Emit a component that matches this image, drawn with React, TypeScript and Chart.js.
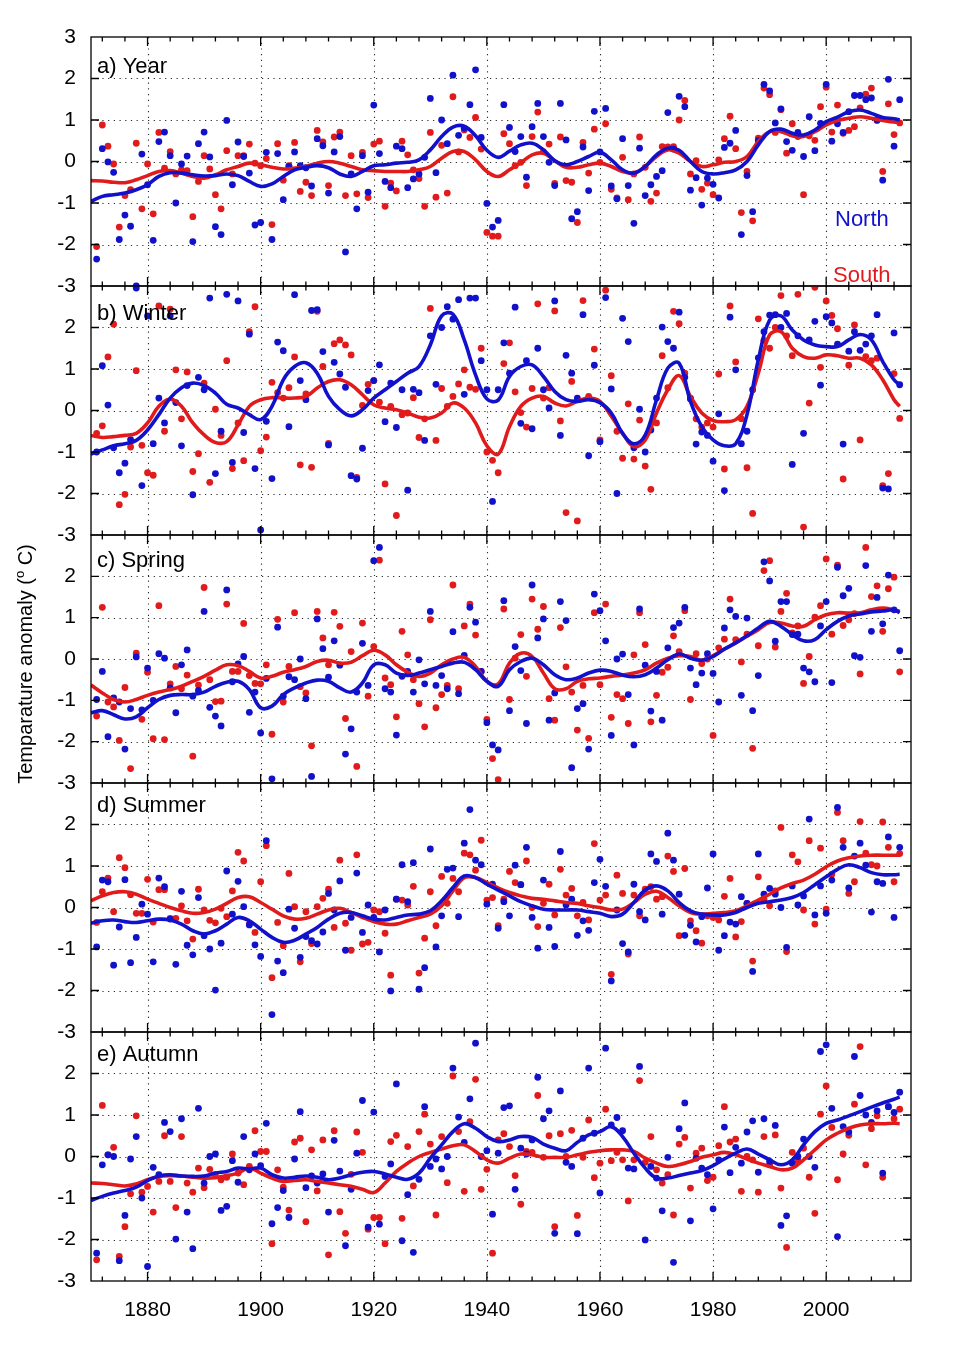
import React, { useEffect, useRef } from 'react';
import { Chart, registerables } from 'chart.js';

Chart.register(...registerables);

// ---------- data ----------
const FIRST_YEAR = 1871; // annual points 1871..2013
const X_MIN = 1870;
const X_MAX = 2015;
const X_LABEL_YEARS = [1880, 1900, 1920, 1940, 1960, 1980, 2000];
const X_MINOR_FIRST = 1872;
const X_MINOR_STEP = 4;
const Y_TICKS_FIRST = [3, 2, 1, 0, -1, -2, -3];
const Y_TICKS_OTHER = [2, 1, 0, -1, -2, -3];
const Y_GRID = [-2, -1, 0, 1, 2];
const PANEL_LABELS = ['a) Year', 'b) Winter', 'c) Spring', 'd) Summer', 'e) Autumn'];
const SERIES_NAMES = ['North', 'South'];
const Y_TITLE_MAIN = 'Temparature anomaly (';
const Y_TITLE_SUP = 'o';
const Y_TITLE_END = ' C)';

// smooth-curve sample years: 1870,1872,...,2012,2013
const CURVE_YEARS = Array.from({ length: 72 }, (_, i) => 1870 + 2 * i).concat([2013]);

// a) Year
const YEAR_NORTH = [
  -2.35, 0.31, -0.01, -0.26, -1.88, -1.29, -1.56, -3.0, 0.18, -0.56,
  -1.9, 0.48, 0.71, 0.14, -1.0, -0.06, 0.13, -1.93, 0.43, 0.71,
  0.11, -1.57, -1.76, 0.99, -0.56, 0.47, 0.12, -0.28, -1.53, -1.47,
  0.22, -1.88, 0.19, -0.92, -0.12, 0.23, -0.1, -0.15, -0.59, 0.55,
  0.38, -0.76, 0.23, 0.6, -2.18, -0.3, -1.14, 0.14, -0.74, 1.36,
  0.19, -0.48, -0.63, 0.37, 0.31, -0.63, -0.42, -0.3, 0.1, 1.52,
  -0.27, 1.0, 0.43, 2.08, 0.63, 0.8, 1.37, 2.21, 0.58, -1.01,
  -1.58, -1.42, 1.37, 0.82, 0.24, 0.6, -0.38, 0.84, 1.4, 0.6,
  -0.02, -0.58, 1.4, 0.52, -1.38, -1.21, 0.35, -0.7, 1.21, 0.23,
  1.28, -0.59, -0.9, 0.55, -0.58, -1.49, 0.32, -0.82, -0.56, -0.36,
  -0.22, 1.18, 0.3, 1.57, 1.32, -0.69, -0.39, -1.05, -0.4, -0.55,
  -0.88, 0.34, 0.44, 0.75, -1.76, -0.34, -1.21, 0.5, 1.86, 1.7,
  0.93, 1.27, 0.48, 0.27, 0.7, 0.12, 1.08, 0.26, 0.92, 1.86,
  0.49, 0.91, 0.7, 1.2, 1.59, 1.59, 1.49, 1.53, 1.0, -0.45,
  1.98, 0.37, 1.49,
];
const YEAR_SOUTH = [
  -2.05, 0.88, 0.37, -0.06, -1.58, -0.82, -0.68, 0.44, -1.14, -0.06,
  -1.26, 0.7, -0.16, 0.24, -0.3, -0.2, -0.22, -1.33, -0.48, 0.14,
  -0.18, -0.8, -1.14, 0.26, -0.3, 0.14, 0.14, 0.42, -0.04, -0.1,
  0.07, -1.52, 0.43, -0.45, -0.1, 0.46, -0.72, -0.5, -0.82, 0.75,
  0.47, -0.58, 0.59, 0.71, -0.82, 0.14, -0.78, 0.22, -0.87, 0.42,
  0.49, -1.08, -0.52, -0.71, 0.49, 0.16, -0.2, -0.41, -1.08, 0.7,
  -0.86, 0.39, -0.76, 1.56, 0.23, 0.76, 0.58, 1.06, 0.3, -1.71,
  -1.8, -1.8, 0.67, 0.43, -0.1, -0.02, -0.58, 0.6, 1.19, 0.24,
  0.42, -0.53, 0.59, -0.46, -0.5, -1.47, 0.46, -0.28, 0.78, -0.02,
  0.91, -0.67, -0.88, 0.1, -0.92, -0.3, 0.59, -0.14, -0.96, -0.76,
  0.36, 0.35, 0.36, 1.0, 1.47, -0.3, 0.02, -0.67, -0.52, -0.8,
  0.04, 0.55, 1.09, 0.31, -1.23, -0.24, -1.43, 0.56, 1.77, 1.61,
  0.7, 1.25, 0.2, 0.91, 0.6, -0.8, 0.62, 0.51, 1.32, 1.79,
  0.71, 1.36, 0.68, 0.75, 0.84, 1.29, 1.62, 1.77, 0.99, -0.24,
  1.39, 0.65, 0.93,
];
const YEAR_NORTH_CURVE = [
  -0.96, -0.84, -0.8, -0.76, -0.68, -0.56, -0.36, -0.27, -0.28, -0.32,
  -0.35, -0.34, -0.3, -0.34, -0.48, -0.6, -0.54, -0.36, -0.2, -0.14,
  -0.1, -0.15, -0.3, -0.36, -0.24, -0.1, -0.08, -0.04, -0.02, 0.04,
  0.28, 0.6, 0.83, 0.85, 0.62, 0.27, 0.1, 0.25, 0.4, 0.44,
  0.28, 0.02, -0.08, 0, 0.12, 0.22, 0.04, -0.2, -0.28, -0.12,
  0.16, 0.32, 0.27, 0, -0.24, -0.3, -0.27, -0.2, 0, 0.4,
  0.72, 0.78, 0.68, 0.64, 0.76, 0.96, 1.07, 1.2, 1.24, 1.16,
  1.06, 1.03, 1.0,
];
const YEAR_SOUTH_CURVE = [
  -0.46, -0.47, -0.5, -0.51, -0.44, -0.34, -0.24, -0.22, -0.28, -0.36,
  -0.4, -0.32, -0.2, -0.12, -0.04, -0.08, -0.14, -0.18, -0.16, -0.12,
  -0.04, 0, -0.04, -0.12, -0.2, -0.22, -0.24, -0.24, -0.24, -0.2,
  -0.12, 0.08, 0.24, 0.24, 0.04, -0.24, -0.36, -0.2, -0.03, 0.16,
  0.2, 0.02, -0.14, -0.14, -0.08, -0.04, -0.12, -0.24, -0.28, -0.12,
  0.12, 0.28, 0.2, 0, -0.12, -0.08, -0.02, 0, 0.12, 0.48,
  0.72, 0.72, 0.62, 0.6, 0.72, 0.88, 0.99, 1.04, 1.08, 1.04,
  0.99, 0.95, 0.96,
];

// b) Winter
const WINTER_NORTH = [
  -1.0, 1.08, 0.13, -0.9, -1.5, -1.27, -0.7, 2.95, -1.81, 2.28,
  -0.8, 0.3, -0.3, 2.28, 0.19, -0.85, 0.6, -2.03, 0.8, 0.5,
  2.71, -1.52, -0.5, 2.8, -1.25, 2.64, -0.53, 1.84, -1.4, -2.88,
  -0.26, -1.64, 1.65, 1.44, -0.39, 2.79, 0.72, 0.26, 2.41, 2.43,
  1.42, -0.83, 1.16, 0.88, 0.56, -1.57, -1.65, -0.91, 0.48, 0.72,
  1.1, -0.27, 0.66, -0.41, 0.5, -1.92, 0.51, 0.43, -0.72, 1.8,
  0.63, 2.0, 2.5, 2.2, 2.67, 0.39, 2.71, 2.71, 1.2, 0.5,
  -2.19, 0.5, 1.63, 0.9, 2.49, -0.31, 1.2, -0.44, 1.5, 0.5,
  0.06, 2.64, -0.6, 1.33, 0.9, 0.3, 2.31, -1.09, 1.09, -0.75,
  2.72, 0.52, -2.0, 2.22, 1.66, -0.9, 0.03, -1.0, -0.47, 0.3,
  2.01, 1.66, 1.5, 2.37, 0.8, 0.28, -0.81, -0.52, -0.6, -1.22,
  -0.08, -1.93, 2.25, 0.98, -0.8, -0.5, 0.5, 1.27, 1.9, 2.3,
  2.31, 2.0, 2.34, -1.3, 1.8, -0.55, 1.7, 2.15, 0.61, 2.26,
  2.11, 1.6, -0.81, 1.43, 1.9, 1.45, 1.6, 1.8, 2.31, -1.87,
  -1.89, 1.87, 0.62,
];
const WINTER_SOUTH = [
  -0.55, -0.37, 1.29, 2.08, -2.27, -2.02, -0.88, 0.96, -0.84, -1.5,
  -1.56, 2.52, -0.5, 2.44, 0.98, -0.2, 0.93, -1.47, -1.04, 0.66,
  -1.73, 0.03, -0.6, 1.2, -1.4, -0.3, -1.21, 1.9, 2.5, -0.97,
  -0.64, 0.68, 0.43, 0.3, 0.55, 1.29, -1.31, 0.4, -1.37, 2.39,
  1.06, -0.79, 1.61, 1.7, 1.58, 1.34, -1.61, 0.12, 0.63, 0.72,
  0.2, -1.77, 0.1, -2.53, -0.1, -0.06, 0.31, -0.65, -0.2, 2.46,
  -0.72, 0.53, 0.1, 0.34, 0.64, 0.98, 0.56, 0.51, 1.5, -1.0,
  -1.2, -1.5, 1.13, 1.63, 0.45, -0.05, -0.4, 0.53, 2.57, 0.3,
  0.55, 2.4, -0.25, -2.46, 0.7, -2.66, 2.65, 0.34, 1.48, -0.71,
  2.9, 0.84, -0.5, -1.15, 0.16, -1.17, -0.23, -1.34, -1.9, -0.3,
  1.32, 0.55, 2.39, 2.09, 0.9, 0.3, -0.2, -0.4, -0.3, -0.4,
  0.88, -1.41, 2.52, 1.17, -0.2, -1.38, -2.48, 2.21, 1.69, 1.5,
  2.0, 2.77, 1.8, 1.32, 2.8, -2.81, 0.18, 2.97, 1.04, 2.64,
  2.29, 1.97, -1.65, 1.09, 2.06, -0.71, 1.3, 1.2, 1.26, -1.81,
  -1.52, 0.89, -0.19,
];
const WINTER_NORTH_CURVE = [
  -1.05, -0.95, -0.85, -0.8, -0.72, -0.47, -0.1, 0.3, 0.55, 0.66,
  0.6, 0.42, 0.15, 0.06, -0.1, -0.22, 0.1, 0.74, 1.06, 1.15,
  0.9, 0.34, 0.02, -0.13, 0.02, 0.3, 0.5, 0.7, 0.9, 1.06,
  1.58, 2.28, 2.32, 1.7, 0.86, 0.28, 0.25, 0.82, 1.06, 1.1,
  0.82, 0.46, 0.26, 0.22, 0.26, 0.19, -0.06, -0.55, -0.8, -0.59,
  0.26, 1.02, 1.14, 0.22, -0.39, -0.71, -0.85, -0.8, -0.1, 1.22,
  2.18, 2.28, 1.94, 1.7, 1.58, 1.54, 1.54, 1.7, 1.83, 1.7,
  1.18, 0.74, 0.62,
];
const WINTER_SOUTH_CURVE = [
  -0.6, -0.65, -0.63, -0.6, -0.55, -0.3, 0.1, 0.27, 0.1, -0.3,
  -0.59, -0.77, -0.75, -0.35, 0.1, 0.26, 0.31, 0.3, 0.3, 0.34,
  0.54, 0.7, 0.74, 0.62, 0.38, 0.14, 0.06, 0.02, -0.06, -0.16,
  -0.18, -0.06, 0.18, 0.06, -0.3, -0.85, -1.05, -0.39, 0.1, 0.3,
  0.34, 0.18, 0.11, 0.22, 0.3, 0.22, -0.14, -0.55, -0.87, -0.71,
  -0.06, 0.5, 0.84, 0.34, -0.06, -0.24, -0.27, -0.22, 0.1, 0.9,
  1.82, 1.9, 1.5, 1.3, 1.26, 1.34, 1.32, 1.26, 1.26, 1.1,
  0.74, 0.26, 0.1,
];

// c) Spring
const SPRING_NORTH = [
  -0.98, -0.3, -1.88, -0.94, -1.04, -2.18, -1.2, 0.05, -1.23, -0.22,
  -1.0, 0.13, 0.02, -0.7, -1.3, -0.14, 0.22, -0.9, -0.76, 1.15,
  -1.17, -1.38, -1.62, 1.67, -0.55, -0.12, 0.06, -1.29, -0.8, -1.79,
  -0.47, -2.9, 0.77, -0.9, -0.43, -0.5, 0.0, -0.96, -2.84, 0.97,
  0.25, -0.44, 0.44, -0.15, -2.3, -1.69, -0.8, 0.38, -0.64, 2.38,
  2.7, -0.72, -0.8, -1.84, -0.42, -0.3, -0.8, -0.02, -0.6, 1.15,
  -0.64, -0.4, -0.72, 0.66, -0.84, 0.09, 1.25, 0.89, -0.3, -1.54,
  -2.08, -2.2, 1.41, -1.25, 0.3, -0.28, -1.56, 1.79, 0.51, 0.97,
  -1.48, -0.82, 1.39, 0.93, -2.63, -1.2, -1.08, -2.18, 1.57, 1.17,
  0.44, -1.85, 0.0, 0.12, -0.86, -2.08, 1.21, -0.15, -1.26, -0.3,
  -1.48, 0.27, 0.76, 0.87, 1.25, -0.22, -0.62, -0.34, 0.13, -0.35,
  -1.04, 0.75, 1.19, 1.03, -0.88, 0.99, -1.25, -0.4, 2.35, 1.89,
  0.43, 1.39, 1.39, 0.59, 0.6, -0.22, -0.31, -0.55, 0.8, 1.39,
  -0.57, 2.22, 1.53, 1.71, 0.08, 0.04, 2.26, 0.67, 1.49, 0.85,
  2.03, 1.19, 0.2,
];
const SPRING_SOUTH = [
  -1.38, 1.25, -1.04, -1.16, -1.97, -0.69, -2.65, 0.14, -1.46, -0.32,
  -1.93, 1.29, -1.95, -0.6, -0.18, -0.72, -0.39, -2.35, -0.63, 1.73,
  -0.5, -1.03, -1.02, 1.33, -0.3, -0.3, 0.86, -0.4, -0.59, -0.6,
  -0.14, -1.82, 0.96, -1.04, -0.18, 1.12, -0.67, -0.82, -2.1, 1.15,
  0.51, -0.14, 1.13, 0.79, -1.44, 0.18, -2.6, 0.87, -0.9, 0.3,
  2.39, -0.46, -0.62, -1.4, 0.67, 0.1, -0.5, -1.08, -1.64, 0.95,
  -1.18, -0.86, -0.64, 1.79, -0.72, 0.8, 1.33, 0.58, -0.3, -1.46,
  -2.41, -2.92, 1.21, -0.98, 0.02, 0.59, -0.42, 1.45, 0.72, 1.27,
  -0.96, -1.48, 0.76, -0.19, -0.8, -1.72, -0.64, -1.92, 1.12, -0.62,
  1.33, -1.41, -0.86, -0.96, -1.56, 0.1, 1.12, 0.35, -1.52, -0.88,
  -0.32, -0.2, 0.56, 0.18, 1.17, -0.98, 0.13, -0.11, 0.0, -1.85,
  0.27, 0.48, 1.45, 0.47, -0.07, 0.6, -2.16, 0.32, 2.14, 2.38,
  0.29, 1.15, 1.59, 0.63, 0.8, -0.59, 0.06, 1.01, 1.29, 2.42,
  0.6, 2.27, 0.81, 0.95, 1.1, -0.36, 2.7, 1.51, 1.77, 0.67,
  1.7, 1.98, -0.31,
];
const SPRING_NORTH_CURVE = [
  -1.3, -1.25, -1.35, -1.45, -1.4, -1.18, -0.98, -0.88, -0.86, -0.86,
  -0.8, -0.66, -0.56, -0.54, -0.74, -1.18, -1.14, -0.86, -0.7, -0.58,
  -0.51, -0.54, -0.7, -0.8, -0.58, -0.14, -0.14, -0.34, -0.4, -0.34,
  -0.26, -0.18, -0.1, -0.08, -0.26, -0.54, -0.66, -0.26, -0.06, 0.02,
  -0.14, -0.38, -0.5, -0.46, -0.34, -0.27, -0.3, -0.39, -0.43, -0.38,
  -0.22, -0.02, 0.12, 0.02, -0.03, 0.06, 0.24, 0.39, 0.56, 0.75,
  0.91, 0.79, 0.59, 0.44, 0.47, 0.71, 0.91, 1.04, 1.09, 1.14,
  1.16, 1.19, 1.12,
];
const SPRING_SOUTH_CURVE = [
  -0.63, -0.82, -0.98, -1.04, -0.98, -0.88, -0.8, -0.74, -0.66, -0.54,
  -0.42, -0.27, -0.14, -0.16, -0.3, -0.46, -0.42, -0.32, -0.26, -0.18,
  -0.06, -0.03, -0.1, -0.08, 0.08, 0.21, 0.1, -0.14, -0.32, -0.42,
  -0.34, -0.14, 0, 0.04, -0.18, -0.54, -0.6, -0.1, 0.14, 0.06,
  -0.34, -0.72, -0.72, -0.54, -0.48, -0.46, -0.42, -0.39, -0.34, -0.26,
  -0.1, 0.02, 0.08, 0.06, -0.03, 0.08, 0.24, 0.39, 0.55, 0.71,
  0.88, 0.87, 0.8, 0.79, 0.95, 1.07, 1.12, 1.11, 1.12, 1.19,
  1.23, 1.19, 1.15,
];

// d) Summer
const SUMMER_NORTH = [
  -0.95, 0.66, 0.62, -1.39, -0.47, 0.67, -1.33, -0.72, 0.08, -0.16,
  -1.31, 0.71, 0.5, -0.28, -1.37, 0.39, -0.91, -1.14, 0.24, -0.68,
  -1.0, -1.99, -0.86, 0.88, -0.16, 0.63, 0.02, -0.42, -0.9, -1.18,
  1.61, -2.58, -1.29, -1.57, -0.04, -0.5, -1.2, -0.7, -0.8, -0.88,
  -0.59, 0.34, -0.06, 0.64, -1.03, -0.24, 0.83, -0.6, 0.06, -0.24,
  -1.07, -0.06, -2.01, 0.2, 1.03, 0.14, 1.08, -1.97, -1.45, 1.41,
  -0.95, -0.2, 0.92, 0.95, -0.22, 1.55, 2.36, 1.14, 1.03, 0.08,
  0.56, -0.5, 0.14, -0.2, 1.02, 0.55, 1.45, -0.24, -0.98, 0.66,
  -0.48, -0.94, 1.35, 0.06, 0.2, -0.67, -0.32, -0.55, 0.6, 1.16,
  0.51, -1.77, -0.06, -0.87, -1.07, 0.56, -0.1, -0.3, 1.29, 1.11,
  -0.16, 1.79, 1.14, 0.32, -0.67, -0.43, -0.83, -0.22, 0.47, 1.29,
  -1.03, -0.68, -0.35, -0.4, 0.26, 0.1, -1.54, 1.29, 0.32, 0.46,
  0.32, 0.0, -0.96, 0.52, 0.06, 0.28, 2.13, -0.18, 0.52, -0.14,
  0.66, 2.41, 1.45, 0.47, 1.24, 1.55, 1.02, -0.11, 0.62, 0.58,
  1.7, -0.24, 1.45,
];
const SUMMER_SOUTH = [
  -0.36, 0.38, 0.71, -0.1, 1.2, 0.96, 0.31, -0.14, -0.14, 0.68,
  -0.35, 0.43, 0.43, -0.26, -0.26, 0.04, -0.32, -0.76, 0.44, -0.06,
  -0.31, -0.37, -0.02, -0.22, 0.4, 1.33, 1.12, -0.4, -0.6, 0.62,
  1.49, -1.69, -0.36, -0.92, 0.82, 0.02, -1.31, -0.1, -0.87, 0.02,
  0.22, 0.44, -0.48, 1.14, -0.38, -1.03, 1.27, -0.88, -0.84, -0.06,
  -0.1, -0.62, -1.63, 0.2, 0.18, 0.06, 0.51, -1.58, -0.74, 0.38,
  -0.44, 0.75, 0.1, 0.7, 0.38, 1.31, 1.27, 0.9, 1.62, 0.18,
  0.24, -0.44, 0.2, 0.87, 0.6, 0.55, 1.12, 0.0, -0.46, 0.1,
  0.56, -0.18, 0.92, 0.3, 0.46, -0.2, 0.12, -0.3, 1.54, 0.18,
  0.3, -1.61, 0.78, 0.34, -1.12, 0.3, -0.2, 0.44, 0.5, 0.2,
  0.26, 1.24, 0.87, -0.68, 0.94, -0.32, -0.56, -0.86, -0.2, -0.24,
  -0.3, 0.27, 0.7, -0.71, -0.34, 0.1, -1.29, 0.74, 0.2, 0.04,
  0.4, 1.93, -1.06, 1.27, 1.1, -0.06, 1.61, -0.4, 1.43, -0.04,
  0.8, 2.29, 1.61, 0.34, 0.62, 2.07, 1.31, 1.03, 1.0, 2.06,
  1.45, 0.62, 1.3,
];
const SUMMER_NORTH_CURVE = [
  -0.38, -0.32, -0.3, -0.34, -0.36, -0.32, -0.28, -0.3, -0.4, -0.56,
  -0.64, -0.56, -0.4, -0.24, -0.32, -0.52, -0.72, -0.84, -0.79, -0.64,
  -0.48, -0.28, -0.14, -0.12, -0.2, -0.28, -0.3, -0.24, -0.18, -0.16,
  -0.08, 0.16, 0.48, 0.76, 0.72, 0.56, 0.42, 0.28, 0.14, 0.04,
  -0.04, -0.06, -0.06, -0.06, -0.1, -0.14, -0.22, -0.16, 0.12, 0.42,
  0.52, 0.4, 0.12, -0.08, -0.16, -0.18, -0.18, -0.12, 0, 0.1,
  0.14, 0.18, 0.24, 0.36, 0.55, 0.74, 0.92, 1.03, 0.96, 0.84,
  0.79, 0.79, 0.8,
];
const SUMMER_SOUTH_CURVE = [
  0.16, 0.28, 0.36, 0.38, 0.32, 0.2, 0.1, 0, -0.08, -0.14,
  -0.12, -0.04, 0.1, 0.24, 0.26, 0.12, -0.04, -0.2, -0.28, -0.26,
  -0.16, -0.06, -0.02, -0.12, -0.24, -0.34, -0.4, -0.4, -0.32, -0.24,
  -0.16, 0.04, 0.4, 0.72, 0.72, 0.6, 0.47, 0.36, 0.28, 0.22,
  0.2, 0.16, 0.12, 0.1, 0.04, 0, -0.06, -0.04, 0.12, 0.32,
  0.39, 0.24, 0.04, -0.12, -0.16, -0.14, -0.12, -0.08, 0.04, 0.18,
  0.32, 0.47, 0.58, 0.66, 0.8, 0.98, 1.12, 1.2, 1.24, 1.26,
  1.26, 1.26, 1.26,
];

// e) Autumn
const AUTUMN_NORTH = [
  -2.33, -0.2, 0.04, 0.0, -2.51, -1.42, -0.06, 0.48, -1.0, -2.65,
  -0.26, -0.44, 0.82, 0.6, -1.99, 0.91, -1.34, -2.22, 1.16, -0.64,
  0.0, 0.06, -1.3, -1.2, -0.1, -0.62, 0.48, -0.32, 0.06, -0.22,
  0.8, -1.62, -1.23, -0.82, -1.47, -0.06, 1.08, -0.75, -0.47, -0.64,
  -0.42, -1.34, 0.39, -0.35, -2.15, -0.79, 0.08, 1.35, -1.7, 1.07,
  -1.63, -0.48, -0.18, 1.75, -2.03, -0.92, -2.31, -0.55, 1.2, -0.24,
  -0.06, -0.3, 0.0, 2.13, 0.95, 0.34, 1.39, 2.73, 0.0, 0.14,
  -1.39, 0.08, 1.18, 1.22, -0.79, 0.2, 0.06, 0.4, 1.91, 0.91,
  1.1, -1.85, 1.58, -0.14, -0.24, -1.86, 0.44, 2.13, 0.56, -0.88,
  2.61, 0.76, 0.94, 0.62, -0.28, -0.3, 2.17, -2.01, -0.24, -0.52,
  -1.31, -0.02, -2.55, 0.67, 1.29, -1.55, -0.04, -0.28, -0.44, -1.26,
  -0.08, 0.71, -0.39, 0.22, -0.16, 0.59, 0.86, -0.38, 0.91, -0.12,
  0.75, -1.66, -1.43, -0.16, 0.0, 0.42, 0.0, -0.26, 2.53, 2.69,
  1.16, -1.93, 0.72, 0.59, 2.41, 1.47, 1.0, 0.82, 1.1, -0.4,
  1.2, 1.06, 1.55,
];
const AUTUMN_SOUTH = [
  -2.49, 1.23, 0.04, 0.22, -2.41, -1.69, -0.9, 0.98, -0.86, -0.72,
  -1.34, -0.6, 0.5, -0.6, -1.23, 0.48, -0.64, -0.86, -0.28, -0.75,
  -0.31, -0.44, -0.56, -0.5, 0.06, -0.4, -0.68, -0.24, 0.62, 0.12,
  0.12, -2.1, -0.32, -0.74, -1.29, 0.35, 0.44, -1.57, 0.16, -0.83,
  0.4, -2.37, 0.62, -1.33, -1.85, -0.43, 0.59, 0.1, -1.75, -1.47,
  -1.47, -2.1, 0.36, 0.51, -1.49, 0.24, -0.71, 0.6, 1.02, 0.3,
  -1.41, 0.48, -0.63, 1.94, 0.6, -0.84, 0.84, 1.86, -0.79, -0.31,
  -2.33, 0.4, 0.55, 0.24, -0.46, -1.15, 0.12, 0.1, 1.47, -0.02,
  0.5, -1.69, 0.55, 0.0, 0.63, -1.42, -0.02, 0.88, -0.51, -0.16,
  1.14, -0.1, 0.1, -0.08, -1.07, -0.08, 1.83, -0.14, 0.48, -0.32,
  -0.64, -0.44, -1.41, 0.3, 0.46, -0.76, 0.08, 0.2, -0.58, -0.5,
  0.26, 1.2, 0.35, 0.42, -0.84, 0.0, -0.08, -0.86, 0.48, -0.2,
  0.52, -0.76, -2.19, 0.1, -0.1, 0.2, -0.5, -1.37, 1.02, 1.7,
  0.7, -0.56, 0.06, 0.51, 1.26, 2.65, -0.2, 0.67, 0.98, -0.5,
  1.2, 0.91, 1.14,
];
const AUTUMN_NORTH_CURVE = [
  -1.06, -0.96, -0.88, -0.82, -0.74, -0.58, -0.47, -0.44, -0.47, -0.48,
  -0.47, -0.4, -0.36, -0.28, -0.3, -0.28, -0.44, -0.52, -0.5, -0.47,
  -0.5, -0.56, -0.52, -0.44, -0.38, -0.36, -0.42, -0.5, -0.55, -0.4,
  -0.04, 0.28, 0.6, 0.79, 0.68, 0.48, 0.36, 0.4, 0.48, 0.46,
  0.3, 0.2, 0.14, 0.34, 0.52, 0.6, 0.72, 0.48, 0.08, -0.28,
  -0.52, -0.52, -0.46, -0.4, -0.34, -0.22, -0.06, 0.08, 0.18, 0.06,
  -0.08, -0.2, -0.08, 0.28, 0.6, 0.8, 0.88, 0.98, 1.08, 1.19,
  1.29, 1.38, 1.43,
];
const AUTUMN_SOUTH_CURVE = [
  -0.64, -0.65, -0.68, -0.71, -0.66, -0.56, -0.48, -0.46, -0.47, -0.5,
  -0.52, -0.51, -0.46, -0.4, -0.28, -0.4, -0.52, -0.6, -0.58, -0.56,
  -0.6, -0.64, -0.68, -0.72, -0.79, -0.87, -0.64, -0.36, -0.16, 0,
  0.1, 0.18, 0.26, 0.28, 0.12, -0.08, -0.16, -0.04, 0.06, 0.04,
  -0.02, -0.02, -0.02, 0.04, 0.1, 0.14, 0.16, 0.16, 0.12, -0.04,
  -0.16, -0.24, -0.2, -0.12, -0.02, 0.04, 0.1, 0.04, -0.06, -0.16,
  -0.24, -0.32, -0.28, -0.08, 0.16, 0.4, 0.56, 0.68, 0.76, 0.79,
  0.79, 0.8, 0.79,
];

const NORTH_POINTS = [YEAR_NORTH, WINTER_NORTH, SPRING_NORTH, SUMMER_NORTH, AUTUMN_NORTH];
const SOUTH_POINTS = [YEAR_SOUTH, WINTER_SOUTH, SPRING_SOUTH, SUMMER_SOUTH, AUTUMN_SOUTH];
const NORTH_CURVES = [YEAR_NORTH_CURVE, WINTER_NORTH_CURVE, SPRING_NORTH_CURVE, SUMMER_NORTH_CURVE, AUTUMN_NORTH_CURVE];
const SOUTH_CURVES = [YEAR_SOUTH_CURVE, WINTER_SOUTH_CURVE, SPRING_SOUTH_CURVE, SUMMER_SOUTH_CURVE, AUTUMN_SOUTH_CURVE];

// ---------- layout / style ----------
const BLUE = '#1111cc';
const RED = '#e11b1b';
const FONT = '"Liberation Sans", Arial, Helvetica, sans-serif';
const PAGE_W = 958;
const PAGE_H = 1351;
const PAD_TOP = 20;
const PAD_RIGHT = 47;
const Y_AXIS_W = 91;
const PANEL_TOPS = [37, 286, 535, 783, 1032];
const PANEL_HEIGHTS = [249, 249, 248, 249, 249];
const PANEL_BOTTOM = [20, 20, 20, 20, 52];
const LABEL_BASELINE = [36, 34, 32, 29, 29];

const toPoints = (vals: number[]) => vals.map((v, i) => ({ x: FIRST_YEAR + i, y: v }));
const toCurve = (vals: number[]) => vals.map((v, i) => ({ x: CURVE_YEARS[i], y: v }));

function drawYTitle(ctx: CanvasRenderingContext2D, cx: number, cy: number) {
  const big = `20px ${FONT}`;
  const small = `13px ${FONT}`;
  const parts: [string, string, number][] = [
    [Y_TITLE_MAIN, big, 0],
    [Y_TITLE_SUP, small, -8],
    [Y_TITLE_END, big, 0],
  ];
  ctx.save();
  ctx.translate(cx, cy);
  ctx.rotate(-Math.PI / 2);
  ctx.textAlign = 'left';
  ctx.textBaseline = 'alphabetic';
  ctx.fillStyle = '#000';
  let total = 0;
  parts.forEach(([t, f]) => { ctx.font = f; total += ctx.measureText(t).width; });
  let xx = -total / 2;
  parts.forEach(([t, f, dy]) => {
    ctx.font = f;
    ctx.fillText(t, xx, 5 + dy);
    xx += ctx.measureText(t).width;
  });
  ctx.restore();
}

const framePlugin = {
  id: 'frame',
  beforeDatasetsDraw(chart: any) {
    const { ctx, chartArea: a, scales } = chart;
    const x = scales.x;
    const y = scales.y;
    ctx.save();
    ctx.strokeStyle = '#2a2a2a';
    ctx.lineWidth = 1.1;
    ctx.setLineDash([1.2, 4.5]);
    X_LABEL_YEARS.forEach((v) => {
      const px = Math.round(x.getPixelForValue(v)) + 0.5;
      ctx.beginPath();
      ctx.moveTo(px, a.top);
      ctx.lineTo(px, a.bottom);
      ctx.stroke();
    });
    Y_GRID.forEach((v) => {
      const py = Math.round(y.getPixelForValue(v)) + 0.5;
      ctx.beginPath();
      ctx.moveTo(a.left, py);
      ctx.lineTo(a.right, py);
      ctx.stroke();
    });
    ctx.restore();
  },
  afterDatasetsDraw(chart: any, _args: any, opts: any) {
    const { ctx, chartArea: a, scales } = chart;
    const x = scales.x;
    const y = scales.y;
    ctx.save();
    ctx.setLineDash([]);
    ctx.strokeStyle = '#000';
    ctx.lineWidth = 1.3;
    ctx.strokeRect(a.left, a.top, a.right - a.left, a.bottom - a.top);
    ctx.beginPath();
    for (let t = X_MINOR_FIRST; t < X_MAX; t += X_MINOR_STEP) {
      const px = x.getPixelForValue(t);
      const len = X_LABEL_YEARS.includes(t) ? 9 : 4.5;
      ctx.moveTo(px, a.top);
      ctx.lineTo(px, a.top + len);
      ctx.moveTo(px, a.bottom);
      ctx.lineTo(px, a.bottom - len);
    }
    Y_GRID.forEach((v) => {
      const py = y.getPixelForValue(v);
      ctx.moveTo(a.left, py);
      ctx.lineTo(a.left + 8, py);
      ctx.moveTo(a.right, py);
      ctx.lineTo(a.right - 8, py);
    });
    ctx.stroke();

    ctx.fillStyle = '#000';
    ctx.font = `22px ${FONT}`;
    ctx.textAlign = 'left';
    ctx.textBaseline = 'alphabetic';
    ctx.fillText(opts.label, a.left + 6, a.top + opts.labelBaseline);

    if (opts.legend) {
      ctx.fillStyle = BLUE;
      ctx.fillText(SERIES_NAMES[0], a.left + 744, a.top + 189);
      ctx.fillStyle = RED;
      ctx.fillText(SERIES_NAMES[1], a.left + 742, a.top + 245);
    }
    if (opts.yTitle) {
      drawYTitle(ctx, 27, (a.top + a.bottom) / 2 + 5);
    }
    ctx.restore();
  },
};

function makeConfig(i: number): any {
  const last = i === 4;
  const yTicks = i === 0 ? Y_TICKS_FIRST : Y_TICKS_OTHER;
  return {
    type: 'line',
    data: {
      datasets: [
        {
          label: SERIES_NAMES[1] + ' points',
          data: toPoints(SOUTH_POINTS[i]),
          showLine: false,
          pointRadius: 3.4,
          pointBorderWidth: 0,
          pointBackgroundColor: RED,
          borderColor: RED,
          order: 3,
        },
        {
          label: SERIES_NAMES[0] + ' points',
          data: toPoints(NORTH_POINTS[i]),
          showLine: false,
          pointRadius: 3.4,
          pointBorderWidth: 0,
          pointBackgroundColor: BLUE,
          borderColor: BLUE,
          order: 2,
        },
        {
          label: SERIES_NAMES[1],
          data: toCurve(SOUTH_CURVES[i]),
          borderColor: RED,
          borderWidth: 3.6,
          pointRadius: 0,
          tension: 0.4,
          fill: false,
          order: 1,
        },
        {
          label: SERIES_NAMES[0],
          data: toCurve(NORTH_CURVES[i]),
          borderColor: BLUE,
          borderWidth: 3.6,
          pointRadius: 0,
          tension: 0.4,
          fill: false,
          order: 0,
        },
      ],
    },
    options: {
      animation: false,
      responsive: false,
      maintainAspectRatio: false,
      events: [],
      layout: { padding: { left: 0, right: PAD_RIGHT, top: PAD_TOP, bottom: 0 } },
      plugins: {
        legend: { display: false },
        tooltip: { enabled: false },
        frame: {
          label: PANEL_LABELS[i],
          labelBaseline: LABEL_BASELINE[i],
          legend: i === 0,
          yTitle: i === 2,
        },
      },
      scales: {
        x: {
          type: 'linear',
          position: 'bottom',
          min: X_MIN,
          max: X_MAX,
          grid: { display: false },
          border: { display: false },
          ticks: {
            display: last,
            autoSkip: false,
            maxRotation: 0,
            padding: 9,
            color: '#000',
            font: { family: FONT, size: 21 },
            callback: (v: any) => String(v),
          },
          afterBuildTicks: (s: any) => { s.ticks = X_LABEL_YEARS.map((v) => ({ value: v })); },
          afterFit: (s: any) => { s.height = PANEL_BOTTOM[i]; },
        },
        y: {
          type: 'linear',
          position: 'left',
          min: -3,
          max: 3,
          grid: { display: false },
          border: { display: false },
          ticks: {
            autoSkip: false,
            padding: 7,
            color: '#000',
            font: { family: FONT, size: 21 },
          },
          afterBuildTicks: (s: any) => { s.ticks = yTicks.map((v) => ({ value: v })); },
          afterFit: (s: any) => { s.width = Y_AXIS_W; },
        },
      },
    },
    plugins: [framePlugin],
  };
}

export default function App() {
  const refs = useRef<(HTMLCanvasElement | null)[]>([]);

  useEffect(() => {
    const charts = PANEL_LABELS.map((_, i) => new Chart(refs.current[i] as HTMLCanvasElement, makeConfig(i)));
    return () => charts.forEach((c) => c.destroy());
  }, []);

  return (
    <div style={{ position: 'absolute', left: 0, top: 0, width: PAGE_W, height: PAGE_H, background: '#fff', overflow: 'hidden' }}>
      {PANEL_LABELS.map((_, i) => {
        const h = PAD_TOP + PANEL_HEIGHTS[i] + PANEL_BOTTOM[i];
        return (
          <canvas
            key={i}
            ref={(el) => { refs.current[i] = el; }}
            width={PAGE_W}
            height={h}
            style={{ position: 'absolute', left: 0, top: PANEL_TOPS[i] - PAD_TOP, width: PAGE_W, height: h }}
          />
        );
      })}
    </div>
  );
}
